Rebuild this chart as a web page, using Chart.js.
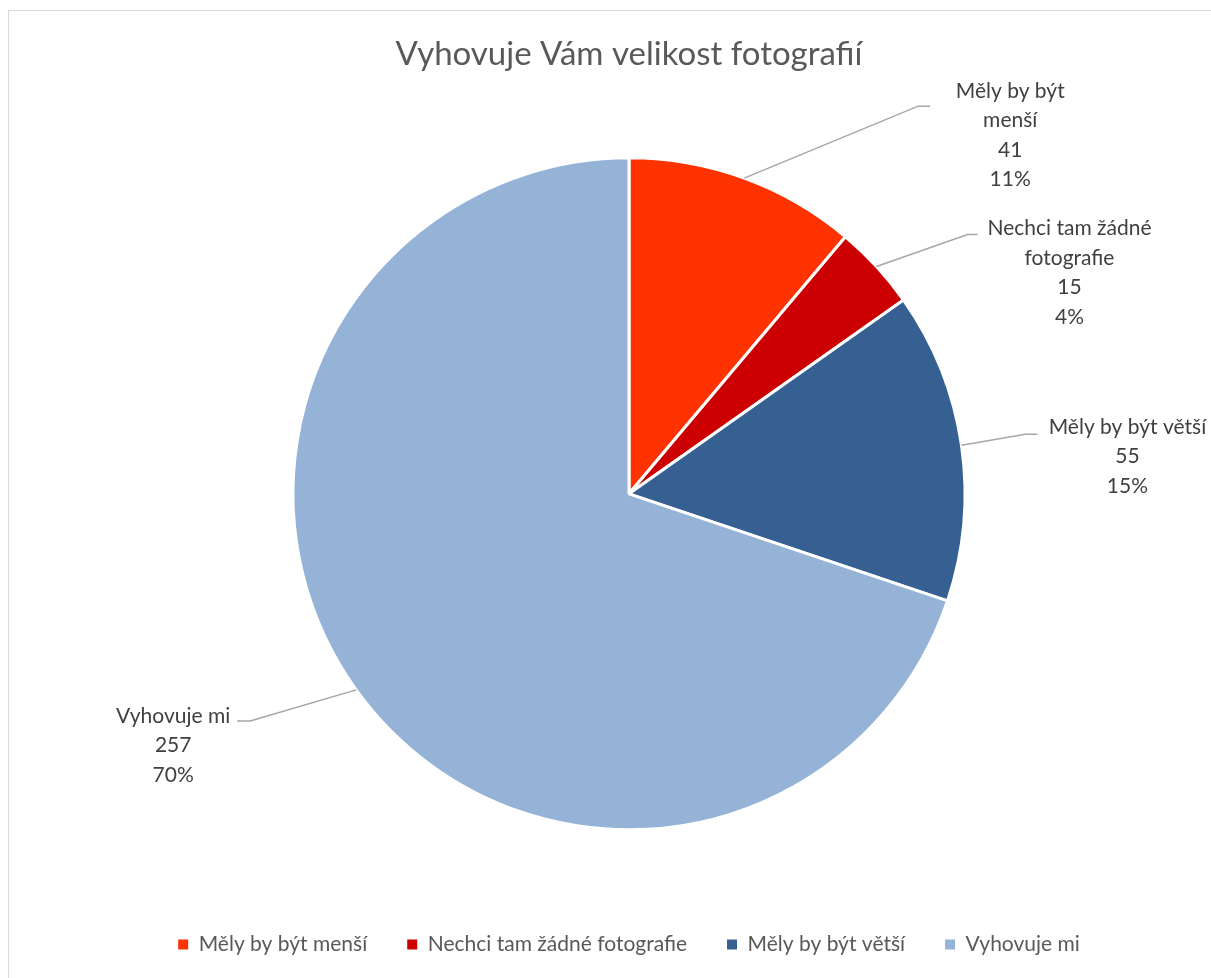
<!DOCTYPE html>
<html>
<head>
<meta charset="utf-8">
<script src="https://cdn.jsdelivr.net/npm/chart.js@4"></script>
<style>
  html, body { margin: 0; padding: 0; background: #fff; overflow: hidden; }
  #ramecek { position: absolute; left: 8px; top: 10px; width: 1300px; height: 1100px; border: 1px solid #d9d9d9; }
  #obal { position: absolute; left: 0; top: 0; width: 1211px; height: 978px; }
</style>
</head>
<body>
<div id="ramecek"></div>
<div id="obal"><canvas id="graf"></canvas></div>
<script>
var nazev = "Vyhovuje Vám velikost fotografií";
var kategorie = ["Měly by být menší", "Nechci tam žádné fotografie", "Měly by být větší", "Vyhovuje mi"];
var pocty = [41, 15, 55, 257];
var barvy = ["#ff3300", "#cc0000", "#376092", "#95b3d7"];

// posun vuci bodu na okraji vysece: koleno cary, konec cary, stred prvniho radku textu
var popisky = [
  { koleno: [174, -72], konec: [186, -72], text: [266, -87], sirka: 140 },
  { koleno: [91, -32], konec: [101, -32], text: [193, -38], sirka: 200 },
  { koleno: [64, -11], konec: [76, -11], text: [166, -18], sirka: 250 },
  { koleno: [-106, 31], konec: [-119, 31], text: [-183, 26], sirka: 250 },
];

function zalom(ctx, text, sirka) {
  var slova = text.split(" ");
  var radky = [];
  var radek = "";
  for (var i = 0; i < slova.length; i++) {
    var zkus = radek ? radek + " " + slova[i] : slova[i];
    if (radek && ctx.measureText(zkus).width > sirka) {
      radky.push(radek);
      radek = slova[i];
    } else {
      radek = zkus;
    }
  }
  radky.push(radek);
  return radky;
}

var popiskyPlugin = {
  id: "popisky",
  afterDatasetsDraw: function (chart) {
    var ctx = chart.ctx;
    var meta = chart.getDatasetMeta(0);
    var soucet = pocty.reduce(function (a, b) { return a + b; }, 0);
    ctx.save();
    ctx.font = "21px Lato";
    meta.data.forEach(function (oblouk, i) {
      var p = oblouk.getProps(["x", "y", "startAngle", "endAngle", "outerRadius"], true);
      var uhel = (p.startAngle + p.endAngle) / 2;
      var ex = p.x + Math.cos(uhel) * p.outerRadius;
      var ey = p.y + Math.sin(uhel) * p.outerRadius;
      var n = popisky[i];
      ctx.strokeStyle = "#a6a6a6";
      ctx.lineWidth = 1.5;
      ctx.beginPath();
      ctx.moveTo(ex, ey);
      ctx.lineTo(ex + n.koleno[0], ey + n.koleno[1]);
      ctx.lineTo(ex + n.konec[0], ey + n.konec[1]);
      ctx.stroke();
      var radky = zalom(ctx, kategorie[i], n.sirka);
      radky.push(String(pocty[i]));
      radky.push(Math.round(pocty[i] / soucet * 100) + "%");
      ctx.fillStyle = "#404040";
      ctx.textAlign = "center";
      ctx.textBaseline = "middle";
      radky.forEach(function (r, j) {
        ctx.fillText(r, ex + n.text[0], ey + n.text[1] + j * 29.5);
      });
    });
    ctx.restore();
  }
};

var graf = new Chart(document.getElementById("graf"), {
  type: "pie",
  data: {
    labels: kategorie,
    datasets: [{
      data: pocty,
      backgroundColor: barvy,
      borderColor: "#ffffff",
      borderWidth: 3,
    }],
  },
  options: {
    responsive: true,
    maintainAspectRatio: false,
    animation: false,
    radius: 336,
    layout: { padding: { left: 47, right: 0, top: 0, bottom: 13 } },
    plugins: {
      title: {
        display: true,
        text: nazev,
        color: "#595959",
        font: { family: "Lato", size: 33, weight: "normal" },
        padding: { top: 35, bottom: 19 },
      },
      legend: {
        position: "bottom",
        labels: {
          font: { family: "Lato", size: 21 },
          color: "#595959",
          boxWidth: 10,
          boxHeight: 10,
          padding: 40,
          generateLabels: function (chart) {
            return kategorie.map(function (k, i) {
              return { text: k, fillStyle: barvy[i], strokeStyle: barvy[i], lineWidth: 0, hidden: false, index: i, fontColor: "#595959" };
            });
          },
        },
      },
      tooltip: { enabled: false },
    },
  },
  plugins: [popiskyPlugin],
});
</script>
</body>
</html>
